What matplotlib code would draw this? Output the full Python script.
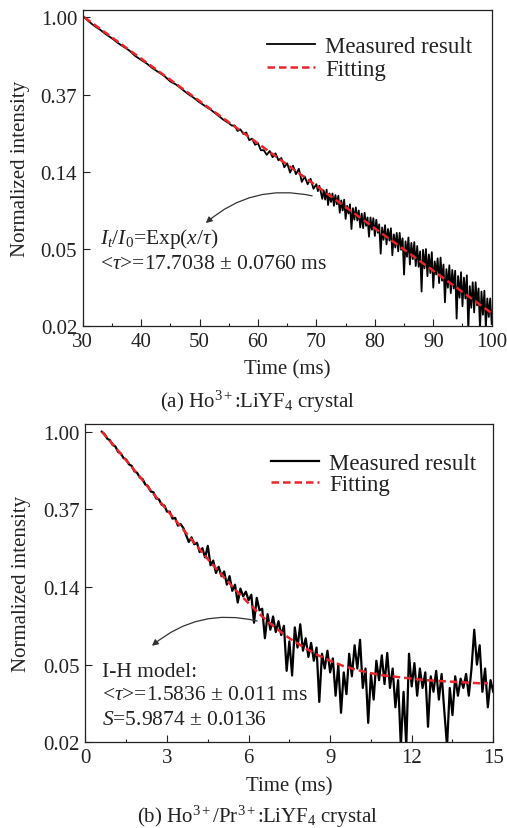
import numpy as np
import matplotlib
matplotlib.use("Agg")
import matplotlib.pyplot as plt
from matplotlib.ticker import MultipleLocator, NullLocator, FixedLocator, FixedFormatter

plt.rcParams["font.family"] = ["Liberation Serif", "DejaVu Serif"]
plt.rcParams["mathtext.fontset"] = "custom"
plt.rcParams["mathtext.rm"] = "Liberation Serif"
plt.rcParams["mathtext.it"] = "Liberation Serif:italic"

# y ticks are e^0 ... e^-4, values below are ln(I/I0)
ytick_ln = [0, -1, -2, -3, -4]
ytick_labels = ["1.00", "0.37", "0.14", "0.05", "0.02"]

# panel (a): Ho3+:LiYF4  (sampling: 1 ms, then 0.5 ms, then 0.25 ms)
a_t = ([30.3] + list(range(31, 56)) + [55.5]
       + [56 + 0.5 * i for i in range(29)]
       + [70.25 + 0.25 * i for i in range(120)])
a_meas = [0.00, -0.05, -0.11, -0.16, -0.22, -0.27, -0.33, -0.38, -0.43, -0.50,
          -0.55, -0.60, -0.66, -0.71, -0.76, -0.83, -0.87, -0.93, -0.99, -1.04,
          -1.10, -1.15, -1.20, -1.26, -1.32, -1.37, -1.40,
          # 56 .. 70
          -1.40, -1.47, -1.45, -1.51, -1.49, -1.59, -1.57, -1.65, -1.63, -1.72,
          -1.72, -1.78, -1.73, -1.81, -1.76, -1.85, -1.82, -1.94, -1.89, -2.01,
          -1.92, -2.03, -1.96, -2.13, -2.06, -2.16, -2.09, -2.22, -2.16,
          # 70.25 .. 100
          -2.25, -2.18, -2.26, -2.35, -2.24, -2.36, -2.23, -2.43, -2.28, -2.39,
          -2.28, -2.44, -2.30, -2.42, -2.31, -2.53, -2.37, -2.50, -2.36, -2.61,
          -2.44, -2.54, -2.42, -2.74, -2.47, -2.62, -2.46, -2.63, -2.50, -2.72,
          -2.54, -2.73, -2.53, -2.70, -2.59, -2.84, -2.59, -2.75, -2.60, -2.83,
          -2.62, -2.79, -2.68, -3.06, -2.72, -2.88, -2.69, -2.94, -2.74, -2.89,
          -2.73, -3.08, -2.81, -2.98, -2.79, -3.03, -2.79, -3.01, -2.86, -3.33,
          -2.90, -3.10, -2.85, -3.20, -2.92, -3.13, -2.91, -3.22, -2.96, -3.23,
          -3.03, -3.55, -3.01, -3.25, -3.00, -3.35, -3.07, -3.31, -3.04, -3.50,
          -3.16, -3.33, -3.12, -3.44, -3.11, -3.41, -3.20, -3.69, -3.26, -3.50,
          -3.21, -3.57, -3.27, -3.51, -3.28, -3.90, -3.35, -3.63, -3.30, -3.74,
          -3.37, -3.64, -3.34, -4.06, -3.48, -3.76, -3.43, -3.82, -3.43, -3.73,
          -3.51, -4.04, -3.55, -3.85, -3.54, -4.02, -3.64, -3.88, -3.64, -3.97]
a_fit_t = [30.3, 100]
a_fit = [0.00, -3.83]

# panel (b): Ho3+/Pr3+:LiYF4  (0.1 ms sampling)
b_t = [round(0.6 + 0.1 * i, 1) for i in range(145)]
b_meas = [0.00, -0.03, -0.09, -0.11, -0.17, -0.19, -0.26, -0.28, -0.34, -0.36,
          -0.42, -0.44, -0.51, -0.53, -0.59, -0.61, -0.68, -0.70, -0.77, -0.78,
          -0.86, -0.87, -0.94, -0.95, -1.03, -1.03, -1.12, -1.11, -1.21, -1.19,
          -1.24, -1.33, -1.42, -1.36, -1.45, -1.43, -1.55, -1.50, -1.62, -1.47,
          -1.72, -1.66, -1.82, -1.74, -1.86, -1.80, -1.97, -1.86, -2.05, -1.97,
          -2.20, -2.02, -2.12, -2.06, -2.17, -2.10, -2.46, -2.14, -2.30, -2.28,
          -2.66, -2.35, -2.55, -2.38, -2.58, -2.44, -2.62, -2.50, -3.08, -2.70,
          -3.14, -2.52, -2.78, -2.48, -2.82, -2.66, -2.90, -2.72, -2.95, -2.78,
          -3.48, -2.86, -3.05, -2.82, -3.10, -2.92, -3.40, -3.00, -3.62, -3.10,
          -3.38, -2.86, -3.15, -2.75, -3.05, -2.68, -3.30, -3.05, -3.75, -3.12,
          -3.45, -2.95, -3.20, -2.88, -3.25, -2.85, -3.30, -3.05, -3.55, -3.20,
          -4.05, -3.35, -4.05, -2.86, -3.28, -2.98, -3.40, -3.05, -3.30, -3.10,
          -3.80, -3.15, -3.35, -3.08, -3.45, -3.12, -3.60, -4.05, -3.30, -3.65,
          -3.15, -3.40, -3.18, -3.30, -3.12, -3.40, -3.05, -2.55, -3.00, -2.75,
          -3.35, -3.05, -3.55, -3.20, -3.35]
b_fit_t = [0.6, 1.0, 1.5, 2.0, 2.5, 3.0, 3.5, 4.0, 4.5, 5.0, 5.5, 6.0, 6.5, 7.0,
           7.5, 8.0, 8.5, 9.0, 9.5, 10.0, 10.5, 11.0, 11.5, 12.0, 12.5, 13.0,
           13.5, 14.0, 14.5, 14.8]
b_fit = [0.00, -0.16, -0.37, -0.58, -0.80, -1.01, -1.22, -1.43, -1.64, -1.84,
         -2.03, -2.21, -2.38, -2.53, -2.66, -2.77, -2.87, -2.95, -3.02, -3.07,
         -3.11, -3.14, -3.16, -3.18, -3.20, -3.21, -3.22, -3.23, -3.24, -3.24]

INK = "#222222"
RED = "#e8262b"

fig = plt.figure(figsize=(5.07, 8.29), dpi=100)
ax_a = fig.add_axes([0.1631, 0.6052, 0.8067, 0.3819])
ax_b = fig.add_axes([0.1686, 0.1034, 0.8043, 0.3840])


def style_axis(ax, xlim, xmajor, xminor, ylab_x, xlab_y):
    ax.set_yscale("log")
    ax.set_ylim(np.exp(-4.0), np.exp(0.10))
    ax.yaxis.set_major_locator(FixedLocator(np.exp(ytick_ln)))
    ax.yaxis.set_major_formatter(FixedFormatter(ytick_labels))
    ax.yaxis.set_minor_locator(NullLocator())
    ax.set_xlim(*xlim)
    ax.xaxis.set_major_locator(MultipleLocator(xmajor))
    ax.xaxis.set_minor_locator(MultipleLocator(xminor))
    ax.tick_params(which="both", direction="in", top=False, right=False,
                   colors=INK, labelsize=15, width=0.8)
    ax.tick_params(which="major", length=4.8, pad=4)
    ax.tick_params(which="minor", length=2.4)
    for s in ax.spines.values():
        s.set_color(INK)
        s.set_linewidth(0.9)
    ax.set_xlabel("Time (ms)", fontsize=15, color=INK, va="center")
    ax.set_ylabel("Normalized intensity", fontsize=15, color=INK, va="center")
    ax.xaxis.set_label_coords(0.5, xlab_y)
    ax.yaxis.set_label_coords(ylab_x, 0.5)


# (a)
ax_a.plot(a_t, np.exp(a_meas), color="black", lw=1.3, label="Measured result")
ax_a.plot(a_fit_t, np.exp(a_fit), color=RED, lw=1.8, ls=(0, (3, 1.6)), label="Fitting")
style_axis(ax_a, (30, 100), 10, 5, -0.153, -0.135)
ax_a.legend(loc="upper left", bbox_to_anchor=(0.45, 0.918), frameon=False,
            fontsize=16.5, handlelength=2.1, handletextpad=0.45,
            labelspacing=0.1, borderpad=0, borderaxespad=0, labelcolor=INK)
ax_a.text(0.042, 0.279, r"$I_t/I_0$=Exp($x/\tau$)", transform=ax_a.transAxes,
          fontsize=15.5, color=INK, va="center")
ax_a.text(0.042, 0.197, r"<$\tau$>=17.7038 ± 0.0760 ms", transform=ax_a.transAxes,
          fontsize=15.5, color=INK, va="center")
ax_a.annotate("", xy=(0.301, 0.326), xycoords="axes fraction",
              xytext=(0.561, 0.412), textcoords="axes fraction",
              arrowprops=dict(arrowstyle="-|>", color="#333333", lw=0.9,
                              mutation_scale=9, shrinkA=0, shrinkB=0,
                              connectionstyle="arc3,rad=0.25"))

# (b)
ax_b.plot(b_t, np.exp(b_meas), color="black", lw=1.6, label="Measured result")
ax_b.plot(b_fit_t, np.exp(b_fit), color=RED, lw=1.8, ls=(0, (3, 1.6)), label="Fitting")
style_axis(ax_b, (0, 15), 3, 1.5, -0.156, -0.136)
ax_b.legend(loc="upper left", bbox_to_anchor=(0.455, 0.91), frameon=False,
            fontsize=16.5, handlelength=2.1, handletextpad=0.45,
            labelspacing=0.02, borderpad=0, borderaxespad=0, labelcolor=INK)
ax_b.text(0.040, 0.221, "I-H model:", transform=ax_b.transAxes,
          fontsize=15.5, color=INK, va="center")
ax_b.text(0.040, 0.149, r"<$\tau$>=1.5836 ± 0.011 ms", transform=ax_b.transAxes,
          fontsize=15.5, color=INK, va="center")
ax_b.text(0.040, 0.073, r"$S$=5.9874 ± 0.0136", transform=ax_b.transAxes,
          fontsize=15.5, color=INK, va="center")
ax_b.annotate("", xy=(0.163, 0.303), xycoords="axes fraction",
              xytext=(0.421, 0.381), textcoords="axes fraction",
              arrowprops=dict(arrowstyle="-|>", color="#333333", lw=0.9,
                              mutation_scale=9, shrinkA=0, shrinkB=0,
                              connectionstyle="arc3,rad=0.25"))

# captions
fig.text(0.508, 1 - 401.7 / 829, r"(a) Ho$^{3+}$:LiYF$_4$ crystal", ha="center",
         va="center", fontsize=15, color=INK)
fig.text(0.508, 1 - 816.7 / 829, r"(b) Ho$^{3+}$/Pr$^{3+}$:LiYF$_4$ crystal",
         ha="center", va="center", fontsize=15, color=INK)

fig.savefig("out.png", dpi=100)
